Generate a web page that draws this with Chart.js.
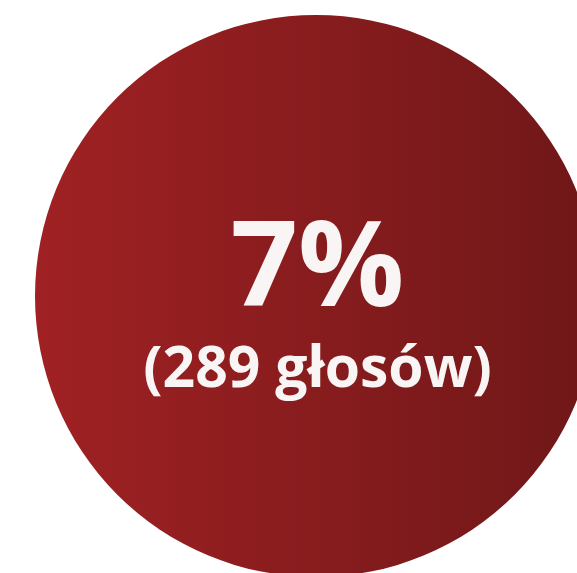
<!DOCTYPE html>
<html>
<head>
<meta charset="utf-8">
<script src="https://cdn.jsdelivr.net/npm/chart.js"></script>
<style>
  html, body { margin: 0; padding: 0; width: 577px; height: 573px; overflow: hidden; background: #fff; }
  #wrap { position: absolute; left: 35px; top: 15px; width: 562px; height: 562px; }
  .lbl { position: absolute; left: 0; width: 635px; text-align: center; color: #f9f5f5;
         font-family: "Open Sans", sans-serif; font-weight: 700; line-height: 1; white-space: nowrap; }
  #pct { top: 202px; font-size: 118px; }
  #votes { top: 337px; font-size: 57px; }
</style>
</head>
<body>
<div id="wrap"><canvas id="circleChart" width="562" height="562"></canvas></div>
<div class="lbl" id="pct"></div>
<div class="lbl" id="votes"></div>
<script>
// single result shown as a full circle
const labels = ['głosy'];
const votes = [289];
const percents = [7];
const gradientStops = ['#a02123', '#6f1718'];

document.getElementById('pct').textContent = percents[0] + '%';
document.getElementById('votes').textContent = '(' + votes[0] + ' głosów)';

function circleGradient(context) {
    const chart = context.chart;
    const area = chart.chartArea;
    if (!area) return gradientStops[0];
    const g = chart.ctx.createLinearGradient(area.left, 0, area.right, 0);
    g.addColorStop(0, gradientStops[0]);
    g.addColorStop(1, gradientStops[1]);
    return g;
}

const ctx = document.getElementById('circleChart').getContext('2d');
const chart = new Chart(ctx, {
    type: 'pie',
    data: {
        labels: labels,
        datasets: [{
            data: votes,
            backgroundColor: circleGradient,
            borderWidth: 0,
            hoverOffset: 0
        }]
    },
    options: {
        responsive: false,
        animation: false,
        layout: { padding: 0 },
        plugins: {
            legend: { display: false },
            tooltip: { enabled: false }
        }
    }
});
</script>
</body>
</html>
